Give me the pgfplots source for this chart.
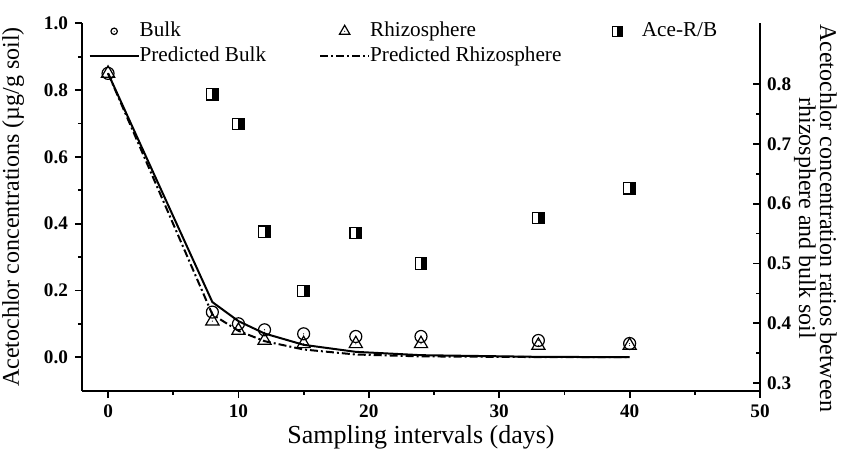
\documentclass[border=0pt]{standalone}
\usepackage{fontspec}
\setmainfont{Liberation Serif}
\usepackage{pgfplots}
\pgfplotsset{compat=1.18}

\pgfdeclareplotmark{ocirc}{%
 \pgfpathcircle{\pgfpointorigin}{\pgfplotmarksize}\pgfusepathqstroke
 \pgfpathcircle{\pgfpointorigin}{0.3pt}\pgfusepathqfill}
\pgfdeclareplotmark{otri}{%
 \pgfpathmoveto{\pgfpointpolar{90}{\pgfplotmarksize}}%
 \pgfpathlineto{\pgfpointpolar{210}{\pgfplotmarksize}}%
 \pgfpathlineto{\pgfpointpolar{-30}{\pgfplotmarksize}}%
 \pgfpathclose\pgfusepathqstroke
 \pgfpathcircle{\pgfpointorigin}{0.3pt}\pgfusepathqfill}
\pgfdeclareplotmark{halfsq}{%
 \pgfsetfillcolor{white}%
 \pgfpathrectangle{\pgfpoint{-\pgfplotmarksize}{-\pgfplotmarksize}}{\pgfpoint{2\pgfplotmarksize}{2\pgfplotmarksize}}\pgfusepathqfill
 \pgfsetfillcolor{black}%
 \pgfpathrectangle{\pgfpoint{0pt}{-\pgfplotmarksize}}{\pgfpoint{\pgfplotmarksize}{2\pgfplotmarksize}}\pgfusepathqfill
 \pgfpathrectangle{\pgfpoint{-\pgfplotmarksize}{-\pgfplotmarksize}}{\pgfpoint{2\pgfplotmarksize}{2\pgfplotmarksize}}\pgfusepathqstroke}

\pgfplotsset{
  commonax/.style={
    width=339.15pt, height=183.7pt, scale only axis,
    xmin=-2, xmax=50,
    tick align=outside,
    major tick length=3.5pt, minor tick length=2pt,
    axis line style={line width=1pt},
    every tick/.style={black, line width=0.9pt},
    /pgf/number format/assume math mode=true,
    tick label style={font=\fontsize{9.6}{11}\selectfont\bfseries},
    label style={font=\fontsize{12}{12}\selectfont},
  },
  lineleg/.style={legend image code/.code={\draw[##1] (-12.25pt,0pt) -- (12.25pt,0pt);}},
  markleg/.style={legend image code/.code={\path[draw=none,fill=none] (-12.25pt,0pt) rectangle (12.25pt,0pt);\draw[##1, mark size=#1] plot coordinates {(0pt,0pt)};}},
}

\begin{document}
\begin{tikzpicture}
\begin{axis}[commonax,
  axis x line*=bottom, axis y line*=left,
  ymin=-0.1, ymax=1.0,
  xtick={0,10,...,50}, minor x tick num=1,
  ytick={0,0.2,...,1.0}, minor y tick num=1,
  yticklabel style={/pgf/number format/.cd, fixed, fixed zerofill, precision=1},
  xlabel={Sampling intervals (days)},
  xlabel style={font=\fontsize{13}{13}\selectfont, at={(axis description cs:0.5,0)}, anchor=center, yshift=-23.6pt},
  ylabel={Acetochlor concentrations (µg/g soil)},
  ylabel style={at={(axis description cs:-0.0932,0.5)}, anchor=base},
  legend columns=3,
  legend cell align=left,
  legend style={draw=none, fill=none, inner sep=0pt,
    at={(axis description cs:0.0093,1)}, anchor=north west, yshift=1.2pt,
    font=\fontsize{10.6}{12}\selectfont, row sep=2.5pt,
    nodes={inner xsep=0pt, inner ysep=0pt, text height=7.5pt, text depth=2.5pt},
    /tikz/column 2/.style={column sep=26.5pt},
    /tikz/column 4/.style={column sep=15.75pt}},
]
\addplot[only marks, mark=ocirc, mark size=3pt, mark options={line width=0.6pt}, markleg=1.6pt]
 coordinates {(0,0.85) (8,0.135) (10,0.10) (12,0.082) (15,0.070) (19,0.062) (24,0.062) (33,0.050) (40,0.041)};
\addlegendentry{Bulk}
\addplot[only marks, mark=otri, mark size=3.8pt, mark options={line width=0.6pt}, markleg=3pt]
 coordinates {(0,0.85) (8,0.108) (10,0.080) (12,0.050) (15,0.040) (19,0.040) (24,0.040) (33,0.035) (40,0.035)};
\addlegendentry{Rhizosphere}
\addlegendimage{only marks, mark=halfsq, mark size=2.5pt, mark options={line width=0.6pt}, markleg=2.5pt}
\addlegendentry{Ace-R/B}
\addplot[black, line width=1pt, lineleg]
 coordinates {(0,0.85) (8,0.165) (10,0.108) (12,0.071) (15,0.037) (19,0.016) (24,0.006) (33,0.001) (40,0.0)};
\addlegendentry{Predicted Bulk}
\addplot[black, line width=1pt, dash pattern=on 4pt off 1.5pt on 1pt off 1.5pt, lineleg]
 coordinates {(0,0.85) (8,0.128) (10,0.079) (12,0.048) (15,0.023) (19,0.008) (24,0.0024) (33,0.0003) (40,0.0)};
\addlegendentry{Predicted Rhizosphere}
\end{axis}
\begin{axis}[commonax,
  axis x line=none, axis y line*=right,
  tick align=inside,
  ymin=0.2876, ymax=0.9015,
  ytick={0.3,0.4,...,0.8}, minor y tick num=1,
  yticklabel style={/pgf/number format/.cd, fixed, fixed zerofill, precision=1},
  ylabel={Acetochlor concentration ratios between\\rhizosphere and bulk soil},
  ylabel style={rotate=180, align=center, font=\fontsize{12}{10.5}\selectfont, at={(axis description cs:1.0816,0.469)}, anchor=center},
]
\addplot[only marks, mark=halfsq, mark size=2.9pt, mark options={line width=0.6pt}]
 coordinates {(8,0.783) (10,0.733) (12,0.553) (15,0.454) (19,0.551) (24,0.500) (33,0.576) (40,0.626)};
\coordinate (bl) at (rel axis cs:0,0);
\coordinate (tr) at (rel axis cs:1,1);
\end{axis}
\pgfresetboundingbox
\path[use as bounding box] ([xshift=-41pt,yshift=-30.15pt]bl) rectangle ([xshift=41.5pt,yshift=11.65pt]tr);
\end{tikzpicture}
\end{document}
